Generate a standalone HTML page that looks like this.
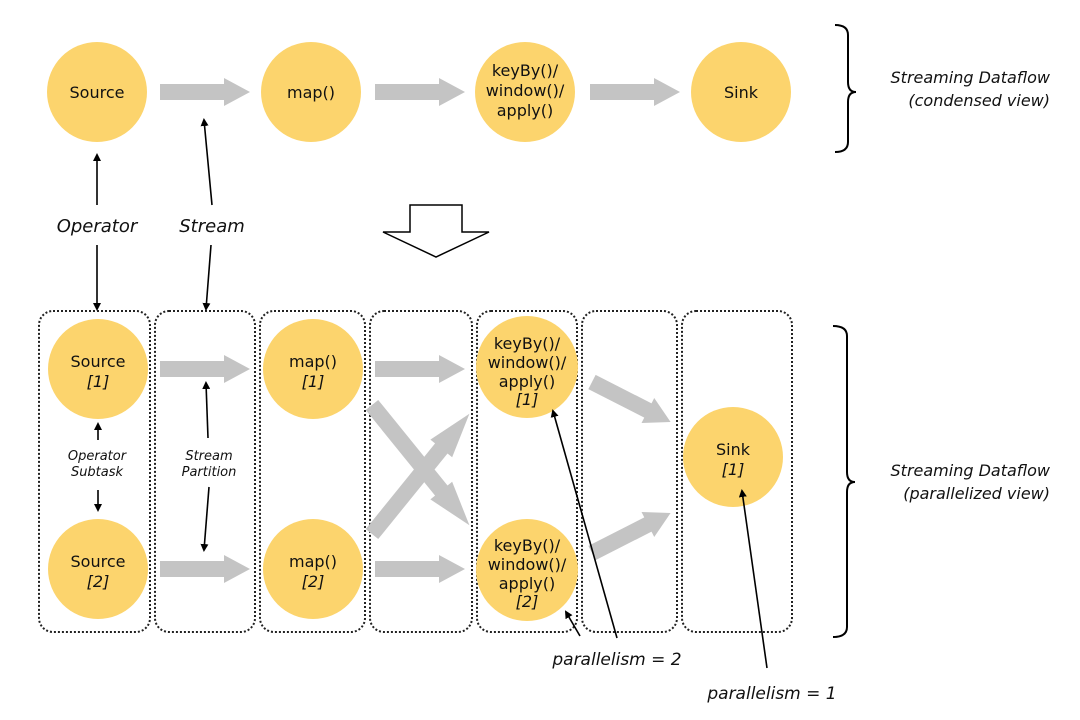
<!DOCTYPE html>
<html><head><meta charset="utf-8"><style>
html,body{margin:0;padding:0;background:#fff;}
svg{display:block;}
text{font-family:"DejaVu Sans","Liberation Sans",sans-serif;fill:#111;}
.c{fill:#fcd46d;}
.it{font-style:italic;}
</style></head><body>
<svg width="1080" height="720" viewBox="0 0 1080 720" xmlns="http://www.w3.org/2000/svg">
<defs>
<marker id="ah" markerWidth="8" markerHeight="8" refX="6" refY="4" orient="auto" markerUnits="userSpaceOnUse">
<path d="M0,0 L8,4 L0,8 z" fill="#000"/></marker>
<g id="ga"><rect x="0" y="-8" width="66" height="16" fill="#c4c4c4"/><path d="M64,-14 L90,0 L64,14 z" fill="#c4c4c4"/></g>
</defs>
<circle class="c" cx="97" cy="92" r="50"/><text x="97" y="98" font-size="16" text-anchor="middle">Source</text>
<circle class="c" cx="311" cy="92" r="50"/><text x="311" y="98" font-size="16" text-anchor="middle">map()</text>
<circle class="c" cx="525" cy="92" r="50"/>
<text x="525" y="76" font-size="16" text-anchor="middle">keyBy()/</text>
<text x="525" y="96" font-size="16" text-anchor="middle">window()/</text>
<text x="525" y="116" font-size="16" text-anchor="middle">apply()</text>
<circle class="c" cx="741" cy="92" r="50"/><text x="741" y="98" font-size="16" text-anchor="middle">Sink</text>
<use href="#ga" transform="translate(160,92)"/>
<use href="#ga" transform="translate(375,92)"/>
<use href="#ga" transform="translate(590,92)"/>
<path d="M835,25 Q848,25 848,35 L848,82 Q848,92 856,92 Q848,92 848,102 L848,142 Q848,152 835,152" fill="none" stroke="#000" stroke-width="2"/>
<text x="1050" y="83" font-size="16" class="it" text-anchor="end">Streaming Dataflow</text>
<text x="1050" y="106" font-size="16" class="it" text-anchor="end">(condensed view)</text>
<text x="97" y="232" font-size="18" class="it" text-anchor="middle">Operator</text>
<text x="212" y="232" font-size="18" class="it" text-anchor="middle">Stream</text>
<path d="M410,205 L462,205 L462,232 L489,232 L436,257 L383,232 L410,232 z" fill="#fff" stroke="#000" stroke-width="1.5"/>
<g fill="none" stroke="#222" stroke-width="2" stroke-dasharray="2,2">
<rect x="39" y="311" width="111" height="321" rx="14"/>
<rect x="155" y="311" width="100" height="321" rx="14"/>
<rect x="260" y="311" width="105" height="321" rx="14"/>
<rect x="370" y="311" width="102" height="321" rx="14"/>
<rect x="477" y="311" width="100" height="321" rx="14"/>
<rect x="582" y="311" width="95" height="321" rx="14"/>
<rect x="682" y="311" width="110" height="321" rx="14"/>
</g>
<use href="#ga" transform="translate(160,369)"/>
<use href="#ga" transform="translate(160,569)"/>
<use href="#ga" transform="translate(375,369)"/>
<use href="#ga" transform="translate(375,569)"/>
<use href="#ga" transform="translate(372,405) rotate(51) scale(1.72,1)"/>
<use href="#ga" transform="translate(372,534) rotate(-51) scale(1.72,1)"/>
<use href="#ga" transform="translate(592,382) rotate(27) scale(0.98,1)"/>
<use href="#ga" transform="translate(592,553) rotate(-27) scale(0.98,1)"/>
<circle class="c" cx="98" cy="369" r="50"/>
<text x="98" y="367" font-size="16" text-anchor="middle">Source</text>
<text x="98" y="387" font-size="16" class="it" text-anchor="middle">[1]</text>
<circle class="c" cx="98" cy="569" r="50"/>
<text x="98" y="567" font-size="16" text-anchor="middle">Source</text>
<text x="98" y="587" font-size="16" class="it" text-anchor="middle">[2]</text>
<circle class="c" cx="313" cy="369" r="50"/>
<text x="313" y="367" font-size="16" text-anchor="middle">map()</text>
<text x="313" y="387" font-size="16" class="it" text-anchor="middle">[1]</text>
<circle class="c" cx="313" cy="569" r="50"/>
<text x="313" y="567" font-size="16" text-anchor="middle">map()</text>
<text x="313" y="587" font-size="16" class="it" text-anchor="middle">[2]</text>
<circle class="c" cx="527" cy="367" r="51"/>
<text x="527" y="349" font-size="16" text-anchor="middle">keyBy()/</text>
<text x="527" y="368" font-size="16" text-anchor="middle">window()/</text>
<text x="527" y="387" font-size="16" text-anchor="middle">apply()</text>
<text x="527" y="405" font-size="16" class="it" text-anchor="middle">[1]</text>
<circle class="c" cx="527" cy="570" r="51"/>
<text x="527" y="551" font-size="16" text-anchor="middle">keyBy()/</text>
<text x="527" y="570" font-size="16" text-anchor="middle">window()/</text>
<text x="527" y="589" font-size="16" text-anchor="middle">apply()</text>
<text x="527" y="607" font-size="16" class="it" text-anchor="middle">[2]</text>
<circle class="c" cx="733" cy="457" r="50"/>
<text x="733" y="455" font-size="16" text-anchor="middle">Sink</text>
<text x="733" y="475" font-size="16" class="it" text-anchor="middle">[1]</text>
<g stroke="#000" stroke-width="1.6" marker-end="url(#ah)">
<line x1="97" y1="205" x2="97" y2="155"/>
<line x1="97" y1="245" x2="97" y2="309"/>
<line x1="212" y1="205" x2="204" y2="120"/>
<line x1="211" y1="245" x2="206" y2="309"/>
<line x1="98" y1="440" x2="98" y2="424"/>
<line x1="98" y1="490" x2="98" y2="510"/>
<line x1="208" y1="438" x2="206" y2="383"/>
<line x1="209" y1="487" x2="204" y2="550"/>
<line x1="617" y1="638" x2="553" y2="411"/>
<line x1="580" y1="636" x2="566" y2="612"/>
<line x1="767" y1="668" x2="742" y2="491"/>
</g>
<text x="97" y="460" font-size="13" class="it" text-anchor="middle">Operator</text>
<text x="97" y="476" font-size="13" class="it" text-anchor="middle">Subtask</text>
<text x="209" y="460" font-size="13" class="it" text-anchor="middle">Stream</text>
<text x="209" y="476" font-size="13" class="it" text-anchor="middle">Partition</text>
<text x="617" y="665" font-size="17" class="it" text-anchor="middle">parallelism = 2</text>
<text x="772" y="699" font-size="17" class="it" text-anchor="middle">parallelism = 1</text>
<path d="M833,326 Q847,326 847,336 L847,472 Q847,482 855,482 Q847,482 847,492 L847,627 Q847,637 833,637" fill="none" stroke="#000" stroke-width="2"/>
<text x="1050" y="476" font-size="16" class="it" text-anchor="end">Streaming Dataflow</text>
<text x="1050" y="499" font-size="16" class="it" text-anchor="end">(parallelized view)</text>
</svg>
</body></html>
